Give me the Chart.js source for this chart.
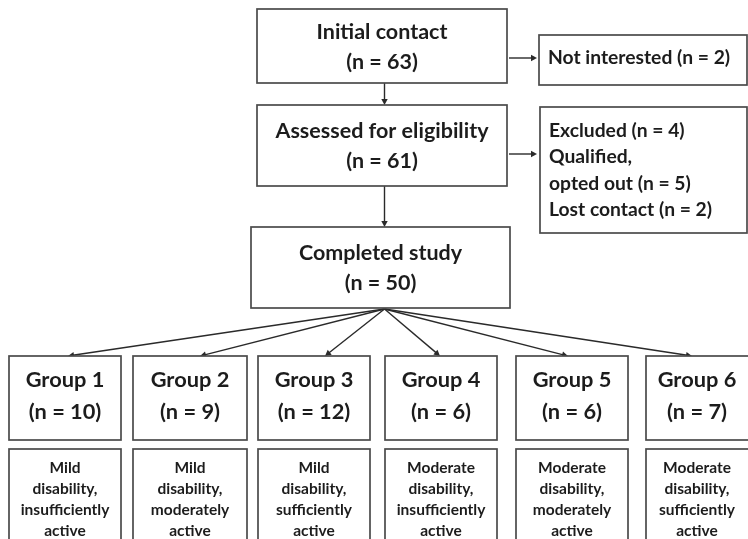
<!DOCTYPE html>
<html>
<head>
<meta charset="utf-8">
<script src="https://cdn.jsdelivr.net/npm/chart.js@4.4.1/dist/chart.umd.min.js"></script>
<style>
  html, body { margin: 0; padding: 0; background: #ffffff; }
  #wrap { width: 748px; height: 539px; }
</style>
</head>
<body>
<div id="wrap"><canvas id="c" width="748" height="539"></canvas></div>
<script>
// ---- Data (content) ----
const stageTitles = ['Initial contact', 'Assessed for eligibility', 'Completed study'];
const stageCounts = [63, 61, 50];
const exclusionLines = [
  ['Not interested (n = 2)'],
  ['Excluded (n = 4)', 'Qualified,', 'opted out (n = 5)', 'Lost contact (n = 2)']
];
const groupNames = ['Group 1', 'Group 2', 'Group 3', 'Group 4', 'Group 5', 'Group 6'];
const groupCounts = [10, 9, 12, 6, 6, 7];
const groupDescriptions = [
  ['Mild', 'disability,', 'insufficiently', 'active'],
  ['Mild', 'disability,', 'moderately', 'active'],
  ['Mild', 'disability,', 'sufficiently', 'active'],
  ['Moderate', 'disability,', 'insufficiently', 'active'],
  ['Moderate', 'disability,', 'moderately', 'active'],
  ['Moderate', 'disability,', 'sufficiently', 'active']
];

// ---- Layout (in axis units) ----
const stageBoxes = [
  { x0: 257, x1: 507, y0: 9, y1: 83 },
  { x0: 257, x1: 507, y0: 105, y1: 186 },
  { x0: 251, x1: 510, y0: 227, y1: 308 }
];
const exclusionBoxes = [
  { x0: 539, x1: 747, y0: 35, y1: 85, textX: 548, lineY0: 58, lineGap: 26 },
  { x0: 540, x1: 747, y0: 107, y1: 233, textX: 549, lineY0: 131, lineGap: 26.2 }
];
const groupBoxX = [[9, 121], [133, 247], [258, 370], [385, 497], [516, 628], [646, 760]];
const groupBoxY = [356, 440];
const descBoxY = [449, 570];
const groupArrowTargetX = [68, 200, 325, 440, 568, 692];

const FONT = 'Lato, "Open Sans", "DejaVu Sans", sans-serif';
const TEXT = '#1c1c1c';
const BORDER = '#4a4a4a';
const LINE = '#2a2a2a';

const flowPlugin = {
  id: 'flow',
  afterDraw(chart) {
    const ctx = chart.ctx;
    const xs = chart.scales.x, ys = chart.scales.y;
    const X = v => xs.getPixelForValue(v);
    const Y = v => ys.getPixelForValue(v);

    function box(b) {
      ctx.save();
      ctx.fillStyle = '#ffffff';
      ctx.strokeStyle = BORDER;
      ctx.lineWidth = 1.7;
      const x = X(b.x0), y = Y(b.y0), w = X(b.x1) - X(b.x0), h = Y(b.y1) - Y(b.y0);
      ctx.fillRect(x, y, w, h);
      ctx.strokeRect(x, y, w, h);
      ctx.restore();
    }
    function text(str, x, y, size, align) {
      ctx.save();
      ctx.fillStyle = TEXT;
      ctx.font = 'bold ' + size + 'px ' + FONT;
      ctx.textAlign = align || 'center';
      ctx.textBaseline = 'middle';
      ctx.fillText(str, X(x), Y(y));
      ctx.restore();
    }
    function arrow(xa, ya, xb, yb) {
      const x1 = X(xa), y1 = Y(ya), x2 = X(xb), y2 = Y(yb);
      const ang = Math.atan2(y2 - y1, x2 - x1);
      const hl = 6, hw = 3.2;
      ctx.save();
      ctx.strokeStyle = LINE;
      ctx.fillStyle = LINE;
      ctx.lineWidth = 1.4;
      ctx.beginPath();
      ctx.moveTo(x1, y1);
      ctx.lineTo(x2 - Math.cos(ang) * hl * 0.8, y2 - Math.sin(ang) * hl * 0.8);
      ctx.stroke();
      ctx.beginPath();
      ctx.moveTo(x2, y2);
      ctx.lineTo(x2 - Math.cos(ang) * hl + Math.sin(ang) * hw, y2 - Math.sin(ang) * hl - Math.cos(ang) * hw);
      ctx.lineTo(x2 - Math.cos(ang) * hl - Math.sin(ang) * hw, y2 - Math.sin(ang) * hl + Math.cos(ang) * hw);
      ctx.closePath();
      ctx.fill();
      ctx.restore();
    }

    // connectors between stages
    const cx = 384.5;
    arrow(cx, stageBoxes[0].y1, cx, stageBoxes[1].y0);
    arrow(cx, stageBoxes[1].y1, cx, stageBoxes[2].y0);
    arrow(stageBoxes[0].x1 + 2, 58, exclusionBoxes[0].x0 - 2, 58);
    arrow(stageBoxes[1].x1 + 2, 154, exclusionBoxes[1].x0 - 3, 154);
    groupArrowTargetX.forEach(tx => arrow(cx, stageBoxes[2].y1 + 1, tx, groupBoxY[0]));

    // stage boxes
    stageBoxes.forEach((b, i) => {
      box(b);
      const mid = (b.x0 + b.x1) / 2;
      const my = (b.y0 + b.y1) / 2;
      text(stageTitles[i], mid, my - 14, 21.5);
      text('(n = ' + stageCounts[i] + ')', mid, my + 16, 21.5);
    });

    // exclusion boxes
    exclusionBoxes.forEach((b, i) => {
      box(b);
      exclusionLines[i].forEach((ln, j) => text(ln, b.textX, b.lineY0 + j * b.lineGap, 19.3, 'left'));
    });

    // group boxes
    groupNames.forEach((g, i) => {
      const [x0, x1] = groupBoxX[i];
      const mid = (x0 + x1) / 2;
      const midText = i === 5 ? (x0 + 748) / 2 : mid;
      box({ x0, x1, y0: groupBoxY[0], y1: groupBoxY[1] });
      text(g, midText, 380, 21.8);
      text('(n = ' + groupCounts[i] + ')', midText, 412, 21.8);
      box({ x0, x1, y0: descBoxY[0], y1: descBoxY[1] });
      groupDescriptions[i].forEach((ln, j) => text(ln, midText, 468 + j * 21, 15.5));
    });
  }
};

new Chart(document.getElementById('c'), {
  type: 'scatter',
  data: { datasets: [{ data: [], pointRadius: 0 }] },
  options: {
    responsive: false,
    animation: false,
    events: [],
    layout: { padding: 0 },
    plugins: { legend: { display: false }, tooltip: { enabled: false }, title: { display: false } },
    scales: {
      x: { type: 'linear', min: 0, max: 748, display: false },
      y: { type: 'linear', min: 0, max: 539, reverse: true, display: false }
    }
  },
  plugins: [flowPlugin]
});
</script>
</body>
</html>
